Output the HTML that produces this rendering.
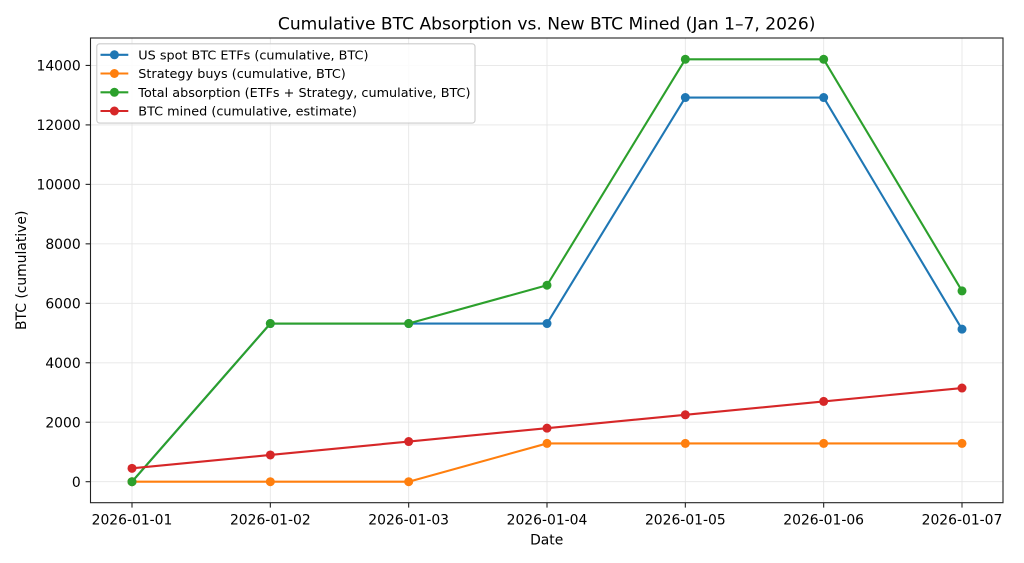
<!DOCTYPE html>
<html><head><meta charset="utf-8"><style>
html,body{margin:0;padding:0;background:#fff;}
svg{display:block;}
text{font-family:"DejaVu Sans","Liberation Sans",sans-serif;fill:#000;}
</style></head><body>
<svg width="1024" height="563" viewBox="0 0 1024 563" xmlns="http://www.w3.org/2000/svg">
<rect width="1024" height="563" fill="#fff"/>
<!-- grid -->
<g stroke="#e6e6e6" stroke-width="0.9">
<line x1="90.5" x2="1003" y1="481.7" y2="481.7"/>
<line x1="90.5" x2="1003" y1="422.23" y2="422.23"/>
<line x1="90.5" x2="1003" y1="362.77" y2="362.77"/>
<line x1="90.5" x2="1003" y1="303.3" y2="303.3"/>
<line x1="90.5" x2="1003" y1="243.84" y2="243.84"/>
<line x1="90.5" x2="1003" y1="184.37" y2="184.37"/>
<line x1="90.5" x2="1003" y1="124.9" y2="124.9"/>
<line x1="90.5" x2="1003" y1="65.44" y2="65.44"/>
<line y1="38" y2="502.7" x1="132" x2="132"/>
<line y1="38" y2="502.7" x1="270.33" x2="270.33"/>
<line y1="38" y2="502.7" x1="408.67" x2="408.67"/>
<line y1="38" y2="502.7" x1="547" x2="547"/>
<line y1="38" y2="502.7" x1="685.33" x2="685.33"/>
<line y1="38" y2="502.7" x1="823.67" x2="823.67"/>
<line y1="38" y2="502.7" x1="962" x2="962"/>
</g>
<!-- series -->
<polyline fill="none" stroke-width="2.1" stroke="#1f77b4" stroke-linejoin="round" points="132,481.7 270.33,323.52 408.67,323.52 547,323.52 685.33,97.55 823.67,97.55 962,329.17"/>
<g fill="#1f77b4">
<circle cx="132" cy="481.7" r="4.5"/><circle cx="270.33" cy="323.52" r="4.5"/><circle cx="408.67" cy="323.52" r="4.5"/><circle cx="547" cy="323.52" r="4.5"/><circle cx="685.33" cy="97.55" r="4.5"/><circle cx="823.67" cy="97.55" r="4.5"/><circle cx="962" cy="329.17" r="4.5"/>
</g>
<polyline fill="none" stroke-width="2.1" stroke="#ff7f0e" stroke-linejoin="round" points="132,481.7 270.33,481.7 408.67,481.7 547,443.43 685.33,443.43 823.67,443.43 962,443.43"/>
<g fill="#ff7f0e">
<circle cx="132" cy="481.7" r="4.5"/><circle cx="270.33" cy="481.7" r="4.5"/><circle cx="408.67" cy="481.7" r="4.5"/><circle cx="547" cy="443.43" r="4.5"/><circle cx="685.33" cy="443.43" r="4.5"/><circle cx="823.67" cy="443.43" r="4.5"/><circle cx="962" cy="443.43" r="4.5"/>
</g>
<polyline fill="none" stroke-width="2.1" stroke="#2ca02c" stroke-linejoin="round" points="132,481.7 270.33,323.52 408.67,323.52 547,285.25 685.33,59.28 823.67,59.28 962,290.9"/>
<g fill="#2ca02c">
<circle cx="132" cy="481.7" r="4.5"/><circle cx="270.33" cy="323.52" r="4.5"/><circle cx="408.67" cy="323.52" r="4.5"/><circle cx="547" cy="285.25" r="4.5"/><circle cx="685.33" cy="59.28" r="4.5"/><circle cx="823.67" cy="59.28" r="4.5"/><circle cx="962" cy="290.9" r="4.5"/>
</g>
<polyline fill="none" stroke-width="2.1" stroke="#d62728" stroke-linejoin="round" points="132,468.32 270.33,454.94 408.67,441.56 547,428.18 685.33,414.8 823.67,401.42 962,388.04"/>
<g fill="#d62728">
<circle cx="132" cy="468.32" r="4.5"/><circle cx="270.33" cy="454.94" r="4.5"/><circle cx="408.67" cy="441.56" r="4.5"/><circle cx="547" cy="428.18" r="4.5"/><circle cx="685.33" cy="414.8" r="4.5"/><circle cx="823.67" cy="401.42" r="4.5"/><circle cx="962" cy="388.04" r="4.5"/>
</g>
<!-- spines -->
<rect x="90.5" y="38" width="912.5" height="464.7" fill="none" stroke="#222" stroke-width="1.1"/>
<!-- ticks -->
<g stroke="#222" stroke-width="1.1">
<line x1="85.6" x2="90.5" y1="481.7" y2="481.7"/>
<line x1="85.6" x2="90.5" y1="422.23" y2="422.23"/>
<line x1="85.6" x2="90.5" y1="362.77" y2="362.77"/>
<line x1="85.6" x2="90.5" y1="303.3" y2="303.3"/>
<line x1="85.6" x2="90.5" y1="243.84" y2="243.84"/>
<line x1="85.6" x2="90.5" y1="184.37" y2="184.37"/>
<line x1="85.6" x2="90.5" y1="124.9" y2="124.9"/>
<line x1="85.6" x2="90.5" y1="65.44" y2="65.44"/>
<line y1="502.7" y2="507.6" x1="132" x2="132"/>
<line y1="502.7" y2="507.6" x1="270.33" x2="270.33"/>
<line y1="502.7" y2="507.6" x1="408.67" x2="408.67"/>
<line y1="502.7" y2="507.6" x1="547" x2="547"/>
<line y1="502.7" y2="507.6" x1="685.33" x2="685.33"/>
<line y1="502.7" y2="507.6" x1="823.67" x2="823.67"/>
<line y1="502.7" y2="507.6" x1="962" x2="962"/>
</g>
<g font-size="13.9" text-anchor="end">
<text x="80.7" y="486.8">0</text>
<text x="80.7" y="427.3">2000</text>
<text x="80.7" y="367.9">4000</text>
<text x="80.7" y="308.4">6000</text>
<text x="80.7" y="248.9">8000</text>
<text x="80.7" y="189.5">10000</text>
<text x="80.7" y="130">12000</text>
<text x="80.7" y="70.5">14000</text>
</g>
<g font-size="13.9" text-anchor="middle">
<text x="132" y="524.5">2026-01-01</text>
<text x="270.33" y="524.5">2026-01-02</text>
<text x="408.67" y="524.5">2026-01-03</text>
<text x="547" y="524.5">2026-01-04</text>
<text x="685.33" y="524.5">2026-01-05</text>
<text x="823.67" y="524.5">2026-01-06</text>
<text x="962" y="524.5">2026-01-07</text>
<text x="546.7" y="544.3">Date</text>
<text transform="translate(26,270.3) rotate(-90)">BTC (cumulative)</text>
<text x="546.7" y="29.5" font-size="17.1">Cumulative BTC Absorption vs. New BTC Mined (Jan 1–7, 2026)</text>
</g>
<!-- legend -->
<rect x="96.8" y="43.8" width="378.2" height="79.3" rx="2.8" fill="#fff" fill-opacity="0.85" stroke="#cccccc" stroke-width="1.1"/>
<g stroke-width="2.1">
<line x1="100.5" x2="128.3" y1="54.8" y2="54.8" stroke="#1f77b4"/>
<line x1="100.5" x2="128.3" y1="73.5" y2="73.5" stroke="#ff7f0e"/>
<line x1="100.5" x2="128.3" y1="92.3" y2="92.3" stroke="#2ca02c"/>
<line x1="100.5" x2="128.3" y1="111" y2="111" stroke="#d62728"/>
</g>
<circle cx="114.4" cy="54.8" r="4.5" fill="#1f77b4"/>
<circle cx="114.4" cy="73.5" r="4.5" fill="#ff7f0e"/>
<circle cx="114.4" cy="92.3" r="4.5" fill="#2ca02c"/>
<circle cx="114.4" cy="111" r="4.5" fill="#d62728"/>
<g font-size="12.8">
<text x="138.3" y="59.4">US spot BTC ETFs (cumulative, BTC)</text>
<text x="138.3" y="78.1">Strategy buys (cumulative, BTC)</text>
<text x="138.3" y="96.9">Total absorption (ETFs + Strategy, cumulative, BTC)</text>
<text x="138.3" y="115.6">BTC mined (cumulative, estimate)</text>
</g>
</svg>
</body></html>
